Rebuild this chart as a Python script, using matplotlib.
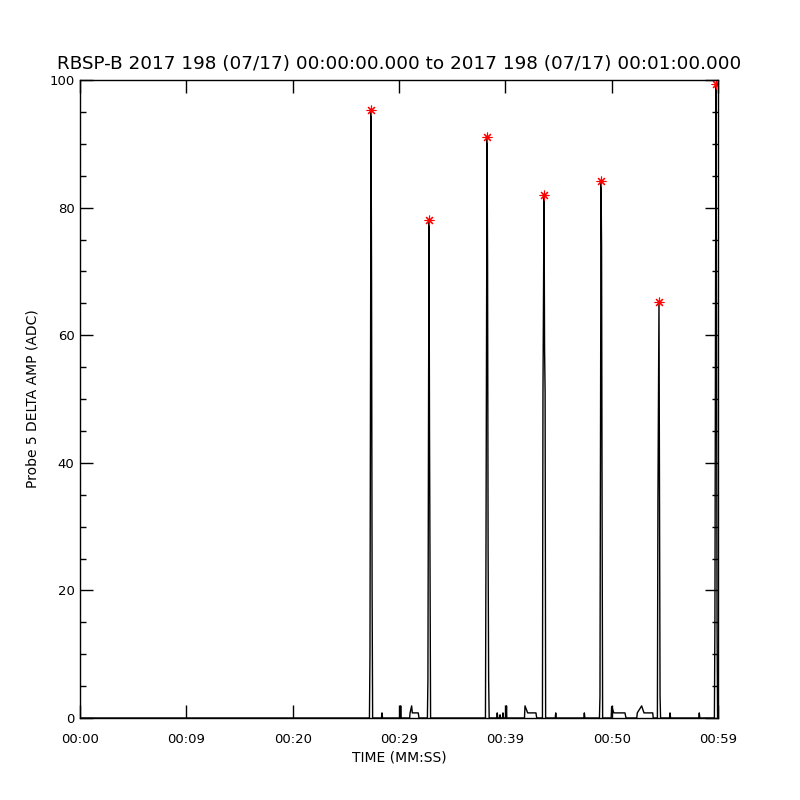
import numpy as np
import matplotlib
matplotlib.use("Agg")
import matplotlib.pyplot as plt

# time in seconds after 00:00:00, probe 5 delta amplitude (ADC)
t_sec = [0.0, 27.22, 27.27, 27.37, 27.42, 27.47, 27.52,
         28.35, 28.40, 28.45,
         30.13, 30.16, 30.19,
         31.00, 31.04, 31.19, 31.25, 31.81, 31.88,
         32.67, 32.72, 32.82, 32.87, 32.92, 32.97,
         38.13, 38.18, 38.28, 38.33, 38.38, 38.43, 38.48,
         39.19, 39.24, 39.29, 39.45, 39.50, 39.55, 39.73, 39.78, 39.83,
         40.08, 40.11, 40.14,
         41.80, 41.85, 42.10, 42.88, 42.95,
         43.49, 43.54, 43.64, 43.69, 43.74, 43.79,
         44.69, 44.74, 44.79, 47.38, 47.43, 47.48,
         48.85, 48.90, 49.00, 49.05, 49.10, 49.15,
         49.95, 50.00, 50.20, 51.25, 51.35,
         52.36, 52.41, 52.82, 53.04, 53.86, 53.91,
         54.30, 54.35, 54.45, 54.50, 54.55, 54.60,
         55.44, 55.49, 55.54, 58.19, 58.24, 58.29,
         59.66, 59.71, 59.81, 59.86, 59.91, 59.96]
amp = [0, 0, 10, 95.3, 67.5, 20, 0,
       0, 0.8, 0,
       0, 1.9, 0,
       0, 0.8, 1.9, 0.8, 0.8, 0,
       0, 6, 78, 45, 22.5, 0,
       0, 26, 91, 71.5, 26, 6, 0,
       0, 0.8, 0, 0, 0.5, 0, 0, 0.8, 0,
       0, 1.9, 0,
       0, 1.9, 0.8, 0.8, 0,
       0, 51, 82, 58, 51, 0,
       0, 0.8, 0, 0, 0.8, 0,
       0, 3.4, 84.2, 74, 32, 0,
       0, 1.8, 0.8, 0.8, 0,
       0, 0.8, 1.9, 0.8, 0.8, 0,
       0, 34, 65.2, 34.5, 3.4, 0,
       0, 0.8, 0, 0, 0.8, 0,
       0, 15, 99.3, 65, 15, 0]

# peak markers
peak_t = [27.37, 32.82, 38.28, 43.64, 49.00, 54.45, 59.81]
peak_amp = [95.3, 78.0, 91.0, 82.0, 84.2, 65.2, 99.3]

x_ticks = [0, 10, 20, 30, 40, 50, 60]
x_labels = ["00:00", "00:09", "00:20", "00:29", "00:39", "00:50", "00:59"]

fig = plt.figure(figsize=(8, 8), dpi=100)
ax = fig.add_axes([0.1, 0.1025, 0.7975, 0.7975])

ax.plot(t_sec, amp, color="black", lw=1)
ax.plot(peak_t, peak_amp, ls="none", marker=(8, 2, 0), ms=7,
        mec="red", mew=0.8, color="red")

ax.set_xlim(0, 60)
ax.set_ylim(0, 100)
ax.set_xticks(x_ticks)
ax.set_xticklabels(x_labels)
ax.set_yticks([0, 20, 40, 60, 80, 100])
ax.set_yticks(np.arange(0, 101, 5), minor=True)

ax.tick_params(axis="both", which="major", direction="in", length=9.3,
               width=1, top=True, right=True, labelsize=9.5)
ax.tick_params(axis="y", which="minor", direction="in", length=4.6,
               width=1, left=True, right=True)
ax.tick_params(axis="x", which="major", pad=11)
ax.tick_params(axis="y", which="major", pad=4)
for sp in ax.spines.values():
    sp.set_linewidth(1)

ax.set_xlabel("TIME (MM:SS)", fontsize=10, labelpad=3)
ax.set_ylabel("Probe 5 DELTA AMP (ADC)", fontsize=10, labelpad=7)
ax.set_title("RBSP-B 2017 198 (07/17) 00:00:00.000 to 2017 198 (07/17) 00:01:00.000",
             fontsize=13.2, pad=8)

fig.savefig("out.png", dpi=100)
